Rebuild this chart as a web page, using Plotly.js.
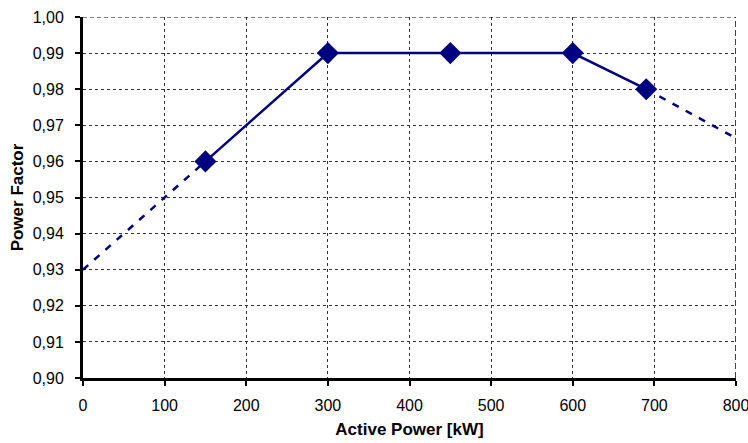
<!DOCTYPE html>
<html><head><meta charset="utf-8">
<script src="https://cdn.plot.ly/plotly-3.0.1.min.js"></script>
<style>body{margin:0;background:#fff}#c{width:748px;height:443px}</style>
</head><body><div id="c"></div>
<script>
const solidX = [150, 300, 450, 600, 690];
const solidY = [0.96, 0.99, 0.99, 0.99, 0.98];
const dashLeftX = [0, 150];
const dashLeftY = [0.93, 0.96];
const dashRightX = [690, 805];
const dashRightY = [0.98, 0.9658];
const xTicks = [0, 100, 200, 300, 400, 500, 600, 700, 800];
const yTicks = [0.90, 0.91, 0.92, 0.93, 0.94, 0.95, 0.96, 0.97, 0.98, 0.99, 1.00];
const navy = '#000080';
const traces = [
  {x: dashLeftX, y: dashLeftY, mode: 'lines', line: {color: navy, width: 2.5, dash: '7px,8px'}, cliponaxis: false, hoverinfo: 'skip'},
  {x: dashRightX, y: dashRightY, mode: 'lines', line: {color: navy, width: 2.5, dash: '7px,8px'}, cliponaxis: false, hoverinfo: 'skip'},
  {x: solidX, y: solidY, mode: 'lines+markers', line: {color: navy, width: 2.5}, marker: {symbol: 'diamond', size: 17, color: navy}, cliponaxis: false}
];
const gridStyle = {gridcolor: '#333', griddash: '3px,3px', gridwidth: 1};
const layout = {
  width: 748, height: 443, separators: ', ',
  margin: {l: 83, r: 12, t: 17, b: 65},
  paper_bgcolor: '#fff', plot_bgcolor: '#fff', showlegend: false,
  font: {family: 'Liberation Sans, Arial, sans-serif', color: '#000', size: 16},
  xaxis: Object.assign({range: [0, 800], tickvals: xTicks, ticktext: xTicks.map(String),
    showline: true, linecolor: '#000', linewidth: 3, ticks: 'outside', ticklen: 5, tickwidth: 2, tickcolor: '#000',
    ticklabelstandoff: 6, tickfont: {size: 16}, ticklabeloverflow: 'allow',
    zeroline: false, title: {text: '<b>Active Power [kW]</b>', font: {size: 17}, standoff: 10}}, gridStyle),
  yaxis: Object.assign({range: [0.90, 1.00], tickvals: yTicks, tickformat: '.2f',
    showline: true, linecolor: '#000', linewidth: 3, ticks: 'outside', ticklen: 5, tickwidth: 2, tickcolor: '#000',
    ticklabelstandoff: 8, tickfont: {size: 16},
    zeroline: false, title: {text: '<b>Power Factor</b>', font: {size: 17}, standoff: 5}}, gridStyle),
  shapes: [
    {type: 'line', xref: 'x', yref: 'paper', x0: 800, x1: 800, y0: 0, y1: 1, line: {color: '#000', width: 1.5, dash: '6px,3px'}},
    {type: 'line', xref: 'paper', yref: 'y', x0: 0, x1: 1, y0: 1.0, y1: 1.0, line: {color: '#000', width: 1.2, dash: '4px,3px'}}
  ]
};
Plotly.newPlot('c', traces, layout, {staticPlot: true});
</script></body></html>
